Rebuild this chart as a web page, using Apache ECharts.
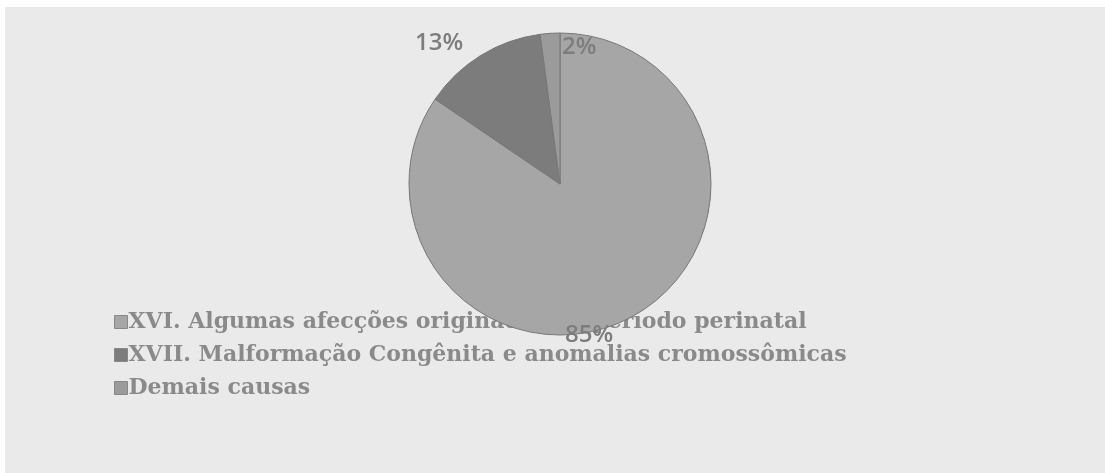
<!DOCTYPE html>
<html>
<head>
<meta charset="utf-8">
<script src="https://cdn.jsdelivr.net/npm/echarts@6/dist/echarts.min.js"></script>
<style>
  html, body { margin: 0; padding: 0; background: #ffffff; }
  #main { position: absolute; left: 5px; top: 7px; width: 1100px; height: 466px; background: #eaeaea; }
</style>
</head>
<body>
<div id="main"></div>
<script>
// dados
const categories = [
  'XVI. Algumas afecções originadas no período perinatal',
  'XVII. Malformação Congênita e anomalias cromossômicas',
  'Demais causas'
];
const values = [84.5, 13.4, 2.1];
const colors = ['#a6a6a6', '#7c7c7c', '#9b9b9b'];

const chart = echarts.init(document.getElementById('main'));

const pieData = categories.map((name, i) => ({ name: name, value: values[i] }));

// posição dos rótulos (canto superior esquerdo), como no original
const labelPos = [[560, 316], [410, 24], [557, 28]];

const option = {
  animation: false,
  backgroundColor: '#eaeaea',
  color: colors,
  legend: {
    orient: 'vertical',
    left: 104,
    top: 299,
    z: 1,
    itemWidth: 13,
    itemHeight: 13,
    itemGap: 11,
    icon: 'rect',
    itemStyle: { borderColor: '#888', borderWidth: 1 },
    textStyle: {
      fontFamily: 'DejaVu Serif',
      fontWeight: 'bold',
      fontSize: 22,
      color: '#8a8a8a',
      padding: [0, 0, 0, -4]
    },
    data: categories
  },
  series: [{
    type: 'pie',
    z: 3,
    center: [555, 177],
    radius: 151,
    startAngle: 90,
    clockwise: true,
    data: pieData,
    itemStyle: { borderColor: '#777', borderWidth: 1 },
    label: {
      show: true,
      position: 'outside',
      formatter: p => Math.round(p.percent) + '%',
      fontFamily: 'Open Sans',
      fontSize: 24,
      fontWeight: 600,
      color: '#7d7d7d'
    },
    labelLine: { show: false, length: 0, length2: 0 },
    labelLayout: function (p) {
      const pos = labelPos[p.dataIndex];
      return { x: pos[0], y: pos[1], align: 'left', verticalAlign: 'top' };
    }
  }]
};

chart.setOption(option);
</script>
</body>
</html>
